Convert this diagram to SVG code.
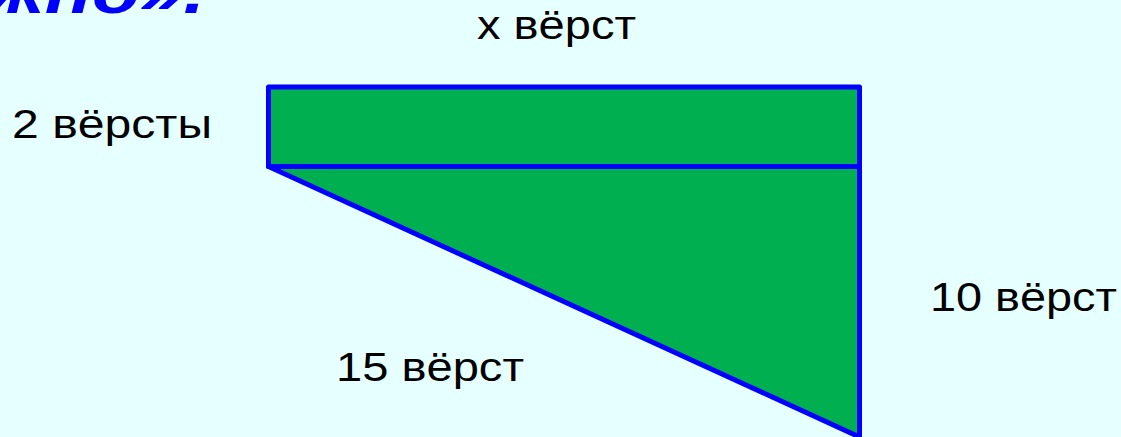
<svg xmlns="http://www.w3.org/2000/svg" width="1121" height="437" viewBox="0 0 1121 437">
  <style>
    .lbl { font-family: "Liberation Sans", Arial, sans-serif; font-size: 41px; fill: #000000; }
    .title { font-family: "Liberation Sans", Arial, sans-serif; font-size: 62px; font-weight: bold; font-style: italic; fill: #0000FF; }
    .shape { fill: #00B050; stroke: #0000FF; stroke-width: 5; stroke-linejoin: round; }
  </style>
  <rect x="0" y="0" width="1121" height="437" fill="#E6FFFF"/>
  <text class="title" x="205" y="13" text-anchor="end" textLength="218" lengthAdjust="spacingAndGlyphs">жно».</text>
  <g id="triangle">
    <polygon class="shape" points="268.5,166.5 859.5,166.5 859.5,437"/>
  </g>
  <g id="rectangle">
    <rect class="shape" x="268.5" y="87" width="591" height="79.5"/>
  </g>
  <g id="connectors"></g>
  <g id="labels">
    <text class="lbl" x="477" y="39" textLength="159" lengthAdjust="spacingAndGlyphs">x вёрст</text>
    <text class="lbl" x="12" y="138" textLength="200" lengthAdjust="spacingAndGlyphs">2 вёрсты</text>
    <text class="lbl" x="930" y="311" textLength="187" lengthAdjust="spacingAndGlyphs">10 вёрст</text>
    <text class="lbl" x="336" y="381" textLength="188" lengthAdjust="spacingAndGlyphs">15 вёрст</text>
  </g>
</svg>
